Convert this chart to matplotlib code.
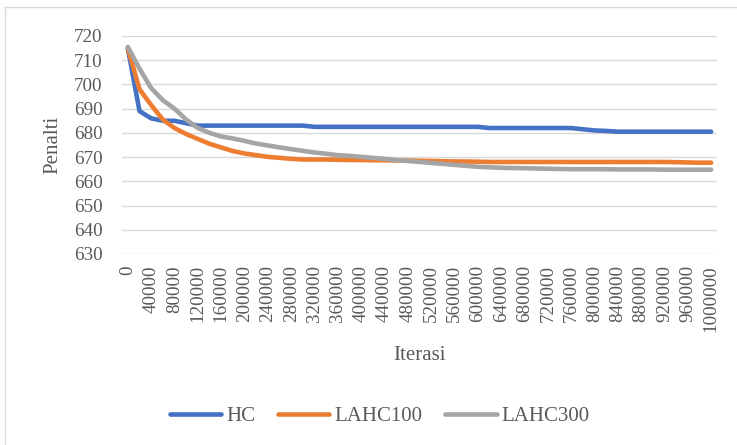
import matplotlib
matplotlib.use("Agg")
import matplotlib.pyplot as plt
from matplotlib.lines import Line2D

iterations = list(range(0, 1000001, 20000))

hc = [715, 689, 686, 685, 685, 684, 683, 683, 683, 683,
      683, 683, 683, 683, 683, 683, 682.5, 682.5, 682.5, 682.5,
      682.5, 682.5, 682.5, 682.5, 682.5, 682.5, 682.5, 682.5, 682.5, 682.5,
      682.5, 682, 682, 682, 682, 682, 682, 682, 682, 681.5,
      681, 680.8, 680.5, 680.5, 680.5, 680.5, 680.5, 680.5, 680.5, 680.5,
      680.5]

lahc100 = [715, 698, 691.5, 685.5, 682, 679.5, 677.5, 675.5, 674, 672.5,
           671.5, 670.8, 670.1, 669.7, 669.3, 669.0, 669.0, 669.0, 668.9, 668.8,
           668.8, 668.7, 668.7, 668.6, 668.6, 668.5, 668.4, 668.3, 668.2, 668.2,
           668.1, 668.0, 668.0, 668.0, 668.0, 668.0, 668.0, 668.0, 668.0, 668.0,
           668.0, 668.0, 668.0, 668.0, 668.0, 668.0, 668.0, 667.9, 667.8, 667.7,
           667.7]

lahc300 = [715.5, 706.5, 698.5, 693.5, 690, 685.5, 682, 680, 678.5, 677.7,
           676.7, 675.6, 674.8, 674.0, 673.3, 672.6, 671.9, 671.4, 670.8, 670.5,
           670.1, 669.7, 669.3, 668.8, 668.4, 668.0, 667.6, 667.2, 666.8, 666.4,
           666.0, 665.8, 665.6, 665.5, 665.4, 665.3, 665.2, 665.1, 665.0, 665.0,
           665.0, 665.0, 664.9, 664.9, 664.9, 664.9, 664.8, 664.8, 664.8, 664.8,
           664.8]

series = [("HC", hc, "#4472C4"), ("LAHC100", lahc100, "#ED7D31"), ("LAHC300", lahc300, "#A5A5A5")]
yticks = list(range(630, 721, 10))

plt.rcParams['font.family'] = ['Liberation Serif', 'DejaVu Serif']
W, H = 737, 445
fig = plt.figure(figsize=(W / 100, H / 100), dpi=100)
ax = fig.add_axes([122 / W, 1 - 254 / H, (717 - 122) / W, (254 - 36) / H])

x = list(range(len(iterations)))
for name, vals, col in series:
    ax.plot(x, vals, color=col, lw=3.3, label=name, solid_capstyle='round', solid_joinstyle='round')

ax.set_xlim(-0.5, len(iterations) - 0.5)
ax.set_ylim(630, 720)
ax.set_yticks(yticks)
ax.set_yticklabels([str(v) for v in yticks])
ax.set_xticks(x[::2])
ax.set_xticklabels([str(v) for v in iterations[::2]], rotation=90)
ax.grid(axis='y', color='#D9D9D9', lw=1.0)
ax.set_axisbelow(True)
for s in ax.spines.values():
    s.set_visible(False)
ax.tick_params(axis='both', length=0, labelsize=13.7, colors='#595959')
ax.tick_params(axis='x', pad=8)
ax.tick_params(axis='y', pad=14)

fig.text(53 / W, 1 - 145 / H, "Penalti", rotation=90, ha='center', va='center',
         fontsize=15, color='#595959')
fig.text(419.5 / W, 1 - 360 / H, "Iterasi", ha='center', va='baseline',
         fontsize=15, color='#595959')

fig.legend(loc='center', bbox_to_anchor=(380 / W, 1 - 416 / H), ncol=3, frameon=False,
           fontsize=15, handlelength=2.45, handletextpad=0.25, columnspacing=1.1,
           labelcolor='#595959')

fig.add_artist(Line2D([5 / W, 5 / W], [0, 1 - 7 / H], transform=fig.transFigure, color='#D9D9D9', lw=1))
fig.add_artist(Line2D([5 / W, 1], [1 - 7 / H, 1 - 7 / H], transform=fig.transFigure, color='#D9D9D9', lw=1))

fig.savefig("out.png", dpi=100)
